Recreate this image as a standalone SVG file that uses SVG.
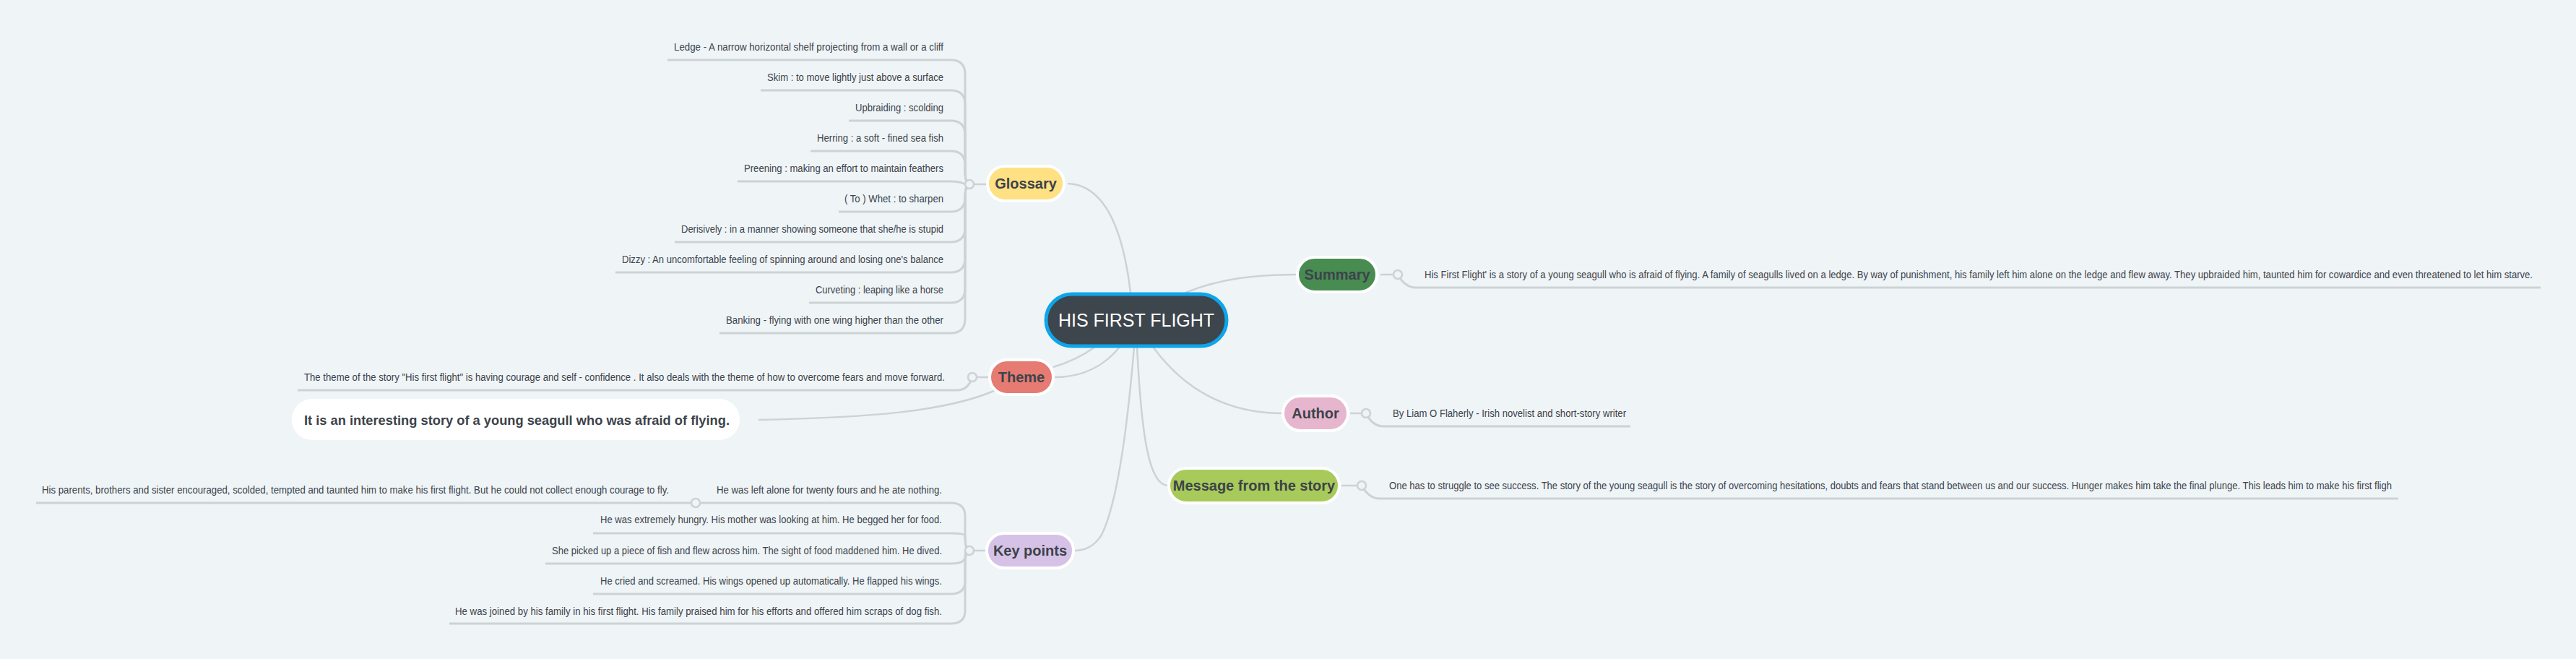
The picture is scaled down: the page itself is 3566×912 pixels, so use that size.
<svg xmlns="http://www.w3.org/2000/svg" width="3566" height="912" viewBox="0 0 3566 912">
<style>
.bg{fill:#eff4f7}
.c{fill:none;stroke:#cdd2d6;stroke-width:2.5}
.ul{fill:none;stroke:#cdd2d6;stroke-width:3}
.dot{fill:#eff4f7;stroke:#cdd2d6;stroke-width:2.5}
.leaf{font-family:"Liberation Sans",Arial,sans-serif;font-size:14px;fill:#3c434a}
.lbl{font-family:"Liberation Sans",Arial,sans-serif;font-size:20px;font-weight:bold;fill:#3c434a;text-anchor:middle}
.node{stroke:#ffffff;stroke-width:4}
</style>
<rect class="bg" x="0" y="0" width="3566" height="912"/>
<g id="connectors">
<path class="c" d="M1478 254 C1530 256 1555 320 1565 405"/>
<path class="c" d="M1641 405 C1690 385 1740 380 1794 380"/>
<path class="c" d="M1596 480 C1640 540 1700 572 1776 572"/>
<path class="c" d="M1574 480 C1580 600 1590 672 1617 672"/>
<path class="c" d="M1516 480 C1495 495 1475 503 1458 508"/>
<path class="c" d="M1550 480 C1530 505 1500 522 1460 522"/>
<path class="c" d="M1570 480 C1560 600 1545 700 1525 740 C1515 757 1500 762 1488 762"/>
<path class="c" d="M1050 581 C1200 578 1310 570 1378 540"/>
<line class="c" x1="1348" y1="255" x2="1367" y2="255"/>
<g id="gl-leaves">
<path class="ul" d="M1342 255 Q1336 255 1336 235 L1336 103 Q1336 83 1316 83 L924 83"/>
<path class="ul" d="M1342 255 Q1336 255 1336 235 L1336 145 Q1336 125 1316 125 L1053 125"/>
<path class="ul" d="M1342 255 Q1336 255 1336 235 L1336 187 Q1336 167 1316 167 L1175 167"/>
<path class="ul" d="M1342 255 Q1336 255 1336 235 L1336 229 Q1336 209 1316 209 L1122 209"/>
<path class="ul" d="M1336 255 Q1330 251 1316 251 L1021 251"/>
<path class="ul" d="M1342 255 Q1336 255 1336 275 L1336 273 Q1336 293 1316 293 L1161 293"/>
<path class="ul" d="M1342 255 Q1336 255 1336 275 L1336 315 Q1336 335 1316 335 L934 335"/>
<path class="ul" d="M1342 255 Q1336 255 1336 275 L1336 357 Q1336 377 1316 377 L852 377"/>
<path class="ul" d="M1342 255 Q1336 255 1336 275 L1336 399 Q1336 419 1316 419 L1120 419"/>
<path class="ul" d="M1342 255 Q1336 255 1336 275 L1336 441 Q1336 461 1316 461 L996 461"/>
</g>
<line class="c" x1="1911" y1="380" x2="1929" y2="380"/>
<path class="ul" d="M1935 380 Q1945 398 1960 398 L3517 398"/>
<line class="c" x1="1869" y1="572" x2="1885" y2="572"/>
<path class="ul" d="M1891 572 Q1900 590 1915 590 L2257 590"/>
<line class="c" x1="1857" y1="672" x2="1879" y2="672"/>
<path class="ul" d="M1885 672 Q1895 690 1910 690 L3320 690"/>
<line class="c" x1="1352" y1="522" x2="1369" y2="522"/>
<path class="ul" d="M1346 522 Q1340 540 1325 540 L412 540"/>
<line class="c" x1="1348" y1="762" x2="1365" y2="762"/>
<g id="kp-leaves">
<path class="ul" d="M1342 762 Q1336 762 1336 742 L1336 714 Q1336 696 1316 696 L969 696"/>
<path class="ul" d="M957 696 L50 696"/>
<path class="ul" d="M1342 762 Q1336 762 1336 742 Q1336 738 1316 738 L821 738"/>
<path class="ul" d="M1342 762 Q1336 762 1336 770 Q1336 780 1316 780 L755 780"/>
<path class="ul" d="M1342 762 Q1336 762 1336 782 L1336 804 Q1336 822 1316 822 L821 822"/>
<path class="ul" d="M1342 762 Q1336 762 1336 782 L1336 845 Q1336 863 1316 863 L622 863"/>
</g>
<circle class="dot" cx="1342" cy="255" r="6"/>
<circle class="dot" cx="1935" cy="380" r="6"/>
<circle class="dot" cx="1891" cy="572" r="6"/>
<circle class="dot" cx="1885" cy="672" r="6"/>
<circle class="dot" cx="1346" cy="522" r="6"/>
<circle class="dot" cx="1342" cy="762" r="6"/>
<circle class="dot" cx="963" cy="696" r="6"/>
</g>
<g id="glossary-texts" class="leaf" text-anchor="end">
<text x="1306" y="70" textLength="373" lengthAdjust="spacingAndGlyphs">Ledge - A narrow horizontal shelf projecting from a wall or a cliff</text>
<text x="1306" y="112" textLength="244" lengthAdjust="spacingAndGlyphs">Skim : to move lightly just above a surface</text>
<text x="1306" y="154" textLength="122" lengthAdjust="spacingAndGlyphs">Upbraiding : scolding</text>
<text x="1306" y="196" textLength="175" lengthAdjust="spacingAndGlyphs">Herring : a soft - fined sea fish</text>
<text x="1306" y="238" textLength="276" lengthAdjust="spacingAndGlyphs">Preening : making an effort to maintain feathers</text>
<text x="1306" y="280" textLength="137" lengthAdjust="spacingAndGlyphs">( To ) Whet : to sharpen</text>
<text x="1306" y="322" textLength="363" lengthAdjust="spacingAndGlyphs">Derisively : in a manner showing someone that she/he is stupid</text>
<text x="1306" y="364" textLength="445" lengthAdjust="spacingAndGlyphs">Dizzy : An uncomfortable feeling of spinning around and losing one's balance</text>
<text x="1306" y="406" textLength="177" lengthAdjust="spacingAndGlyphs">Curveting : leaping like a horse</text>
<text x="1306" y="448" textLength="301" lengthAdjust="spacingAndGlyphs">Banking - flying with one wing higher than the other</text>
</g>
<g id="summary-text" class="leaf"><text x="1972" y="385" textLength="1534" lengthAdjust="spacingAndGlyphs">His First Flight' is a story of a young seagull who is afraid of flying. A family of seagulls lived on a ledge.  By way of punishment, his family left him alone on the ledge and flew away. They upbraided him, taunted him for cowardice and even threatened to let him starve.</text></g>
<g id="author-text" class="leaf"><text x="1928" y="577" textLength="323" lengthAdjust="spacingAndGlyphs">By Liam O Flaherly - Irish novelist and short-story writer</text></g>
<g id="message-text" class="leaf"><text x="1923" y="677" textLength="1388" lengthAdjust="spacingAndGlyphs">One has to struggle to see success. The story of the young seagull is the story of overcoming hesitations, doubts and fears that stand between us and our success. Hunger makes him take the final plunge. This leads him to make his first fligh</text></g>
<g id="theme-text" class="leaf"><text x="421" y="527" textLength="887" lengthAdjust="spacingAndGlyphs">The theme of the story "His first flight" is having courage and self - confidence . It also deals with the theme of how to overcome fears and move forward.</text></g>
<g id="floating">
<rect x="404" y="552" width="620" height="57" rx="28" fill="#ffffff"/>
<text x="421" y="588" textLength="589" lengthAdjust="spacingAndGlyphs" font-family="Liberation Sans, Arial, sans-serif" font-size="19" font-weight="bold" fill="#3c434a">It is an interesting story of a young seagull who was afraid of flying.</text>
</g>
<g id="keypoint-texts" class="leaf" text-anchor="end">
<text x="1304" y="683" textLength="312" lengthAdjust="spacingAndGlyphs">He was left alone for twenty fours and he ate nothing.</text>
<text x="926" y="683" textLength="868" lengthAdjust="spacingAndGlyphs">His parents, brothers and sister encouraged, scolded, tempted and taunted him to make his first flight. But he could not collect enough courage to fly.</text>
<text x="1304" y="724" textLength="473" lengthAdjust="spacingAndGlyphs">He was extremely hungry. His mother was looking at him. He begged her for food.</text>
<text x="1304" y="767" textLength="540" lengthAdjust="spacingAndGlyphs">She picked up a piece of fish and flew across him. The sight of food maddened him. He dived.</text>
<text x="1304" y="809" textLength="473" lengthAdjust="spacingAndGlyphs">He cried and screamed. His wings opened up automatically. He flapped his wings.</text>
<text x="1304" y="851" textLength="674" lengthAdjust="spacingAndGlyphs">He was joined by his family in his first flight. His family praised him  for his efforts and offered him scraps of dog fish.</text>
</g>
<g id="central">
<rect x="1448" y="407" width="250" height="72" rx="36" fill="#3d454d" stroke="#0ea5e9" stroke-width="5"/>
<text x="1573" y="452" font-family="Liberation Sans, Arial, sans-serif" font-size="25" fill="#ffffff" text-anchor="middle">HIS FIRST FLIGHT</text>
</g>
<g id="glossary"><rect class="node" x="1367" y="230" width="106" height="48" rx="24" fill="#ffe082"/><text class="lbl" x="1420" y="261">Glossary</text></g>
<g id="summary"><rect class="node" x="1796" y="356" width="110" height="48" rx="24" fill="#488c52"/><text class="lbl" x="1851" y="387">Summary</text></g>
<g id="author"><rect class="node" x="1776" y="548" width="90" height="48" rx="24" fill="#e6b6cf"/><text class="lbl" x="1821" y="579">Author</text></g>
<g id="message"><rect class="node" x="1618" y="648" width="236" height="48" rx="24" fill="#a8ca5a"/><text class="lbl" x="1736" y="679">Message from the story</text></g>
<g id="theme"><rect class="node" x="1370" y="498" width="88" height="48" rx="24" fill="#e57b72"/><text class="lbl" x="1414" y="529">Theme</text></g>
<g id="keypoints"><rect class="node" x="1366" y="738" width="120" height="48" rx="24" fill="#d6c2e6"/><text class="lbl" x="1426" y="769">Key points</text></g>
</svg>
